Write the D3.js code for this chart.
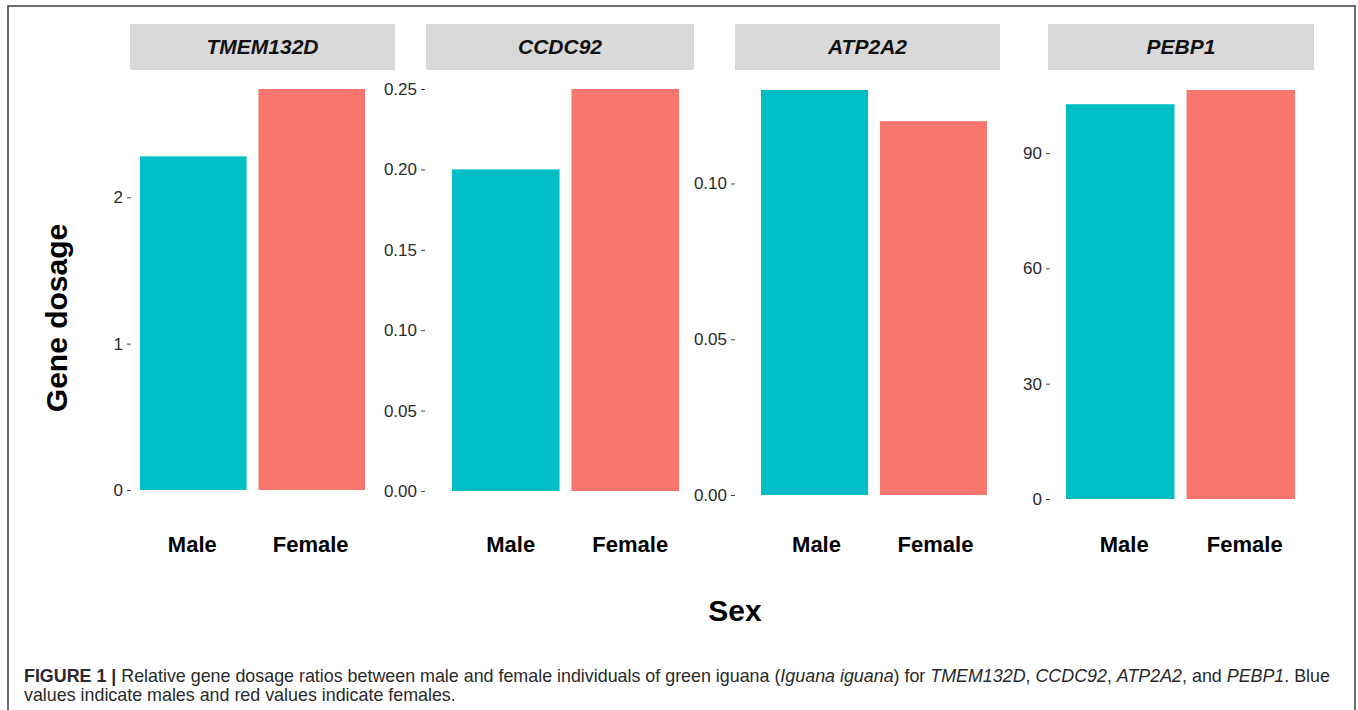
<!DOCTYPE html>
<html>
<head>
<meta charset="utf-8">
<script src="https://cdn.jsdelivr.net/npm/d3@7"></script>
<style>
  html, body { margin: 0; padding: 0; background: #fff; }
  svg { display: block; font-family: "Liberation Sans", Arial, Helvetica, sans-serif; }
</style>
</head>
<body>
<svg id="fig" width="1358" height="710"></svg>
<script>
// Genes shown as facets, and the relative dosage per sex
const genes = ["TMEM132D", "CCDC92", "ATP2A2", "PEBP1"];
const sexes = ["Male", "Female"];
const maleValues = [2.28, 0.20, 0.13, 102.7];
const femaleValues = [2.74, 0.25, 0.12, 106.4];

// Y-axis ticks for each facet (free scales)
const tickValues = [
  [0, 1, 2],
  [0, 0.05, 0.10, 0.15, 0.20, 0.25],
  [0, 0.05, 0.10],
  [0, 30, 60, 90]
];
const tickFormats = [d3.format("d"), d3.format(".2f"), d3.format(".2f"), d3.format("d")];

const fillColors = { Male: "#00BFC4", Female: "#F8766D" };

// Panel layout: axis line x, bar span, plot top/bottom, strip span, label nudge
const panels = [
  { axisX: 131, x0: 140, x1: 365, top: 89, bottom: 490, s0: 130, s1: 395, nudge: -1 },
  { axisX: 425, x0: 452, x1: 679, top: 89, bottom: 491, s0: 426, s1: 694, nudge: 5 },
  { axisX: 735, x0: 761, x1: 987, top: 90, bottom: 495, s0: 735, s1: 1000, nudge: 2 },
  { axisX: 1050, x0: 1066, x1: 1295, top: 90, bottom: 499, s0: 1048, s1: 1314, nudge: 4 }
];

const svg = d3.select("#fig");

// Outer frame
svg.append("rect")
  .attr("x", 8).attr("y", 6)
  .attr("width", 1347).attr("height", 760)
  .attr("fill", "none")
  .attr("stroke", "#4a4a4a")
  .attr("stroke-width", 1.6);

genes.forEach((gene, i) => {
  const p = panels[i];
  const vals = [maleValues[i], femaleValues[i]];
  const yMax = d3.max(vals);

  const x = d3.scaleBand().domain(sexes).range([p.x0, p.x1]).paddingInner(0.1).paddingOuter(0);
  const y = d3.scaleLinear().domain([0, yMax]).range([p.bottom, p.top]);

  const g = svg.append("g");

  // Facet strip
  g.append("rect")
    .attr("x", p.s0).attr("y", 24)
    .attr("width", p.s1 - p.s0).attr("height", 46)
    .attr("fill", "#d9d9d9");
  g.append("text")
    .attr("x", (p.s0 + p.s1) / 2).attr("y", 54)
    .attr("text-anchor", "middle")
    .attr("font-size", 21).attr("font-weight", "bold").attr("font-style", "italic")
    .attr("fill", "#111")
    .text(gene);

  // Bars
  g.selectAll("rect.bar")
    .data(sexes.map((s, k) => ({ sex: s, value: vals[k] })))
    .join("rect")
    .attr("class", "bar")
    .attr("x", d => x(d.sex))
    .attr("width", x.bandwidth())
    .attr("y", d => y(d.value))
    .attr("height", d => y(0) - y(d.value))
    .attr("fill", d => fillColors[d.sex]);

  // Y axis ticks (no axis line)
  const axis = d3.axisLeft(y)
    .tickValues(tickValues[i])
    .tickFormat(tickFormats[i])
    .tickSize(4)
    .tickPadding(4);
  const ag = g.append("g").attr("transform", `translate(${p.axisX},0)`).call(axis);
  ag.attr("font-size", null).attr("font-family", null);
  ag.select(".domain").remove();
  ag.selectAll(".tick line").attr("stroke", "#444").attr("stroke-width", 1);
  ag.selectAll(".tick text")
    .style("font-size", "17px")
    .attr("fill", "#2b2b2b");

  // Category labels
  g.selectAll("text.xlab")
    .data(sexes)
    .join("text")
    .attr("class", "xlab")
    .attr("x", d => x(d) + x.bandwidth() / 2 + p.nudge)
    .attr("y", 552)
    .attr("text-anchor", "middle")
    .attr("font-size", 22).attr("font-weight", "bold")
    .attr("fill", "#000")
    .text(d => d);
});

// Axis titles
svg.append("text")
  .attr("transform", "translate(67,318) rotate(-90)")
  .attr("text-anchor", "middle")
  .attr("font-size", 30).attr("font-weight", "bold")
  .attr("fill", "#000")
  .text("Gene dosage");

svg.append("text")
  .attr("x", 735).attr("y", 621)
  .attr("text-anchor", "middle")
  .attr("font-size", 30).attr("font-weight", "bold")
  .attr("fill", "#000")
  .text("Sex");

// Caption (two lines, mixed styles)
const captionLines = [
  [
    { t: "FIGURE 1 | ", w: "bold" },
    { t: "Relative gene dosage ratios between male and female individuals of green iguana (" },
    { t: "Iguana iguana", i: true },
    { t: ") for " },
    { t: "TMEM132D", i: true },
    { t: ", " },
    { t: "CCDC92", i: true },
    { t: ", " },
    { t: "ATP2A2", i: true },
    { t: ", and " },
    { t: "PEBP1", i: true },
    { t: ". Blue" }
  ],
  [
    { t: "values indicate males and red values indicate females." }
  ]
];
const captionBaselines = [682, 701];
const capGroups = captionLines.map((parts, li) => {
  const cg = svg.append("g");
  const txt = cg.append("text")
    .attr("x", 0).attr("y", 0)
    .attr("font-size", 17.5)
    .attr("fill", "#2a2a2a");
  parts.forEach(pt => {
    txt.append("tspan")
      .attr("font-weight", pt.w || "normal")
      .attr("font-style", pt.i ? "italic" : "normal")
      .style("white-space", "pre")
      .text(pt.t);
  });
  txt.attr("xml:space", "preserve");
  return { cg, txt, li };
});
// Condense horizontally so the first line spans the caption width
const firstWidth = capGroups[0].txt.node().getComputedTextLength();
const sx = 1307 / firstWidth;
capGroups.forEach(({ cg, li }) => {
  cg.attr("transform", `translate(24,${captionBaselines[li]}) scale(${sx},1)`);
});
</script>
</body>
</html>
